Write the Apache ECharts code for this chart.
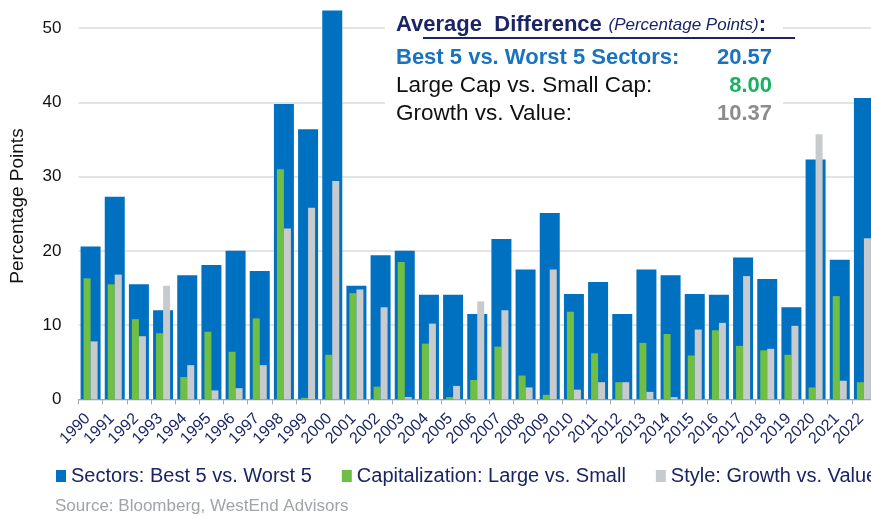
<!DOCTYPE html>
<html>
<head>
<meta charset="utf-8">
<script src="https://cdn.jsdelivr.net/npm/echarts@6/dist/echarts.min.js"></script>
<style>html,body{margin:0;padding:0;background:#fff;overflow:hidden;width:871px;height:517px;}#c{position:absolute;left:0;top:-46px;width:876px;height:563px;}</style>
</head>
<body>
<div id="c"></div>
<script>
const years = ['1990','1991','1992','1993','1994','1995','1996','1997','1998','1999','2000','2001','2002','2003','2004','2005','2006','2007','2008','2009','2010','2011','2012','2013','2014','2015','2016','2017','2018','2019','2020','2021','2022'];
const sectors = [20.6,27.3,15.5,12.0,16.7,18.1,20.0,17.3,39.8,36.4,52.4,15.3,19.4,20.0,14.1,14.1,11.5,21.6,17.5,25.1,14.2,15.8,11.5,17.5,16.7,14.2,14.1,19.1,16.2,12.4,32.3,18.8,40.6];
const capitalization = [16.3,15.5,10.8,8.9,3.0,9.1,6.4,10.9,31.0,0.2,6.0,14.3,1.7,18.5,7.5,0.3,2.6,7.1,3.2,0.6,11.8,6.2,2.3,7.6,8.8,5.9,9.3,7.2,6.6,6.0,1.6,13.9,2.3];
const style = [7.8,16.8,8.5,15.3,4.6,1.2,1.5,4.6,23.0,25.8,29.4,14.8,12.4,0.3,10.2,1.8,13.2,12.0,1.6,17.5,1.3,2.3,2.3,1.0,0.3,9.4,10.3,16.6,6.8,9.9,35.7,2.5,21.7];
const yTicks = [0,10,20,30,40,50];
const seriesNames = ['Sectors: Best 5 vs. Worst 5','Capitalization: Large vs. Small','Style: Growth vs. Value'];
const averages = [
  {label:'Best 5 vs. Worst 5 Sectors:', value:'20.57'},
  {label:'Large Cap vs. Small Cap:', value:'8.00'},
  {label:'Growth vs. Value:', value:'10.37'}
];

const FONT = "'Liberation Sans', Arial, Helvetica, sans-serif";
const NAVY = '#1B2466';
const BLUE = '#0070C0', GREEN = '#70BF44', GREY = '#C8CBCE';
const OFF = 46; // canvas is shifted up by this many px

const chart = echarts.init(document.getElementById('c'), null, {renderer:'canvas'});
chart.setOption({
  animation:false,
  textStyle:{fontFamily:FONT},
  grid:{left:78.5, right:0, top:0, bottom:117.7, containLabel:false},
  xAxis:[{
    type:'category', data:years, boundaryGap:true,
    axisLine:{show:true, lineStyle:{color:'#A6A6A6', width:1}},
    axisTick:{show:true, length:5, lineStyle:{color:'#A6A6A6'}},
    axisLabel:{rotate:45, fontSize:16, color:NAVY, margin:14, padding:[0,4,0,0], fontFamily:FONT, interval:0}
  },{
    type:'category', data:years, show:false, position:'bottom'
  }],
  yAxis:{
    type:'value', min:0, max:60, interval:10,
    axisLine:{show:false}, axisTick:{show:false},
    splitLine:{lineStyle:{color:'#D9DCE0', width:1.5}},
    axisLabel:{fontSize:17, color:'#111', margin:17, fontFamily:FONT,
      formatter:function(v){return yTicks.indexOf(v)>=0 ? String(v) : '';}}
  },
  legend:{
    left:56, top:466+OFF, width:1400, itemWidth:10, itemHeight:12, itemGap:30, padding:0,
    icon:'rect',
    textStyle:{fontSize:20, color:NAVY, fontFamily:FONT},
    data:seriesNames
  },
  series:[
    {name:seriesNames[0], type:'bar', xAxisIndex:0, data:sectors, barWidth:20, itemStyle:{color:BLUE}, z:2},
    {name:seriesNames[1], type:'bar', xAxisIndex:1, data:capitalization, barWidth:7, barGap:'0%', itemStyle:{color:GREEN}, z:3},
    {name:seriesNames[2], type:'bar', xAxisIndex:1, data:style, barWidth:7, barGap:'0%', itemStyle:{color:GREY}, z:3}
  ],
  graphic:[
    {type:'rect', shape:{x:385, y:0, width:398, height:128+OFF}, style:{fill:'#fff'}, z:50},
    {type:'text', x:396, y:25+OFF, z:51, style:{
      text:'{b|Average  Difference}  {i|(Percentage Points)}{b|:}',
      verticalAlign:'middle',
      rich:{
        b:{fontSize:22, fontWeight:'bold', fill:NAVY, fontFamily:FONT},
        i:{fontSize:17, fontStyle:'italic', fill:NAVY, fontFamily:FONT}
      }
    }},
    {type:'line', z:51, shape:{x1:423, y1:38+OFF, x2:795, y2:38+OFF}, style:{stroke:NAVY, lineWidth:2}},
    {type:'text', x:396, y:58+OFF, z:51, style:{text:averages[0].label, font:"bold 22px "+FONT, fill:'#1A73C1', verticalAlign:'middle'}},
    {type:'text', x:772, y:58+OFF, z:51, style:{text:averages[0].value, font:"bold 22px "+FONT, fill:'#1A73C1', verticalAlign:'middle', align:'right'}},
    {type:'text', x:396, y:86+OFF, z:51, style:{text:averages[1].label, font:"22.5px "+FONT, fill:'#111', verticalAlign:'middle'}},
    {type:'text', x:772, y:86+OFF, z:51, style:{text:averages[1].value, font:"bold 22px "+FONT, fill:'#17B15F', verticalAlign:'middle', align:'right'}},
    {type:'text', x:396, y:114+OFF, z:51, style:{text:averages[2].label, font:"22.5px "+FONT, fill:'#111', verticalAlign:'middle'}},
    {type:'text', x:772, y:114+OFF, z:51, style:{text:averages[2].value, font:"bold 22px "+FONT, fill:'#8C8C8C', verticalAlign:'middle', align:'right'}},
    {type:'text', x:18, y:206+OFF, rotation:Math.PI/2, z:51, style:{text:'Percentage Points', font:"19px "+FONT, fill:'#111', align:'center', verticalAlign:'middle'}},
    {type:'text', x:55, y:506+OFF, z:51, style:{text:'Source: Bloomberg, WestEnd Advisors', font:"17px "+FONT, fill:'#A0A4A8', verticalAlign:'middle'}}
  ]
});
</script>
</body>
</html>
